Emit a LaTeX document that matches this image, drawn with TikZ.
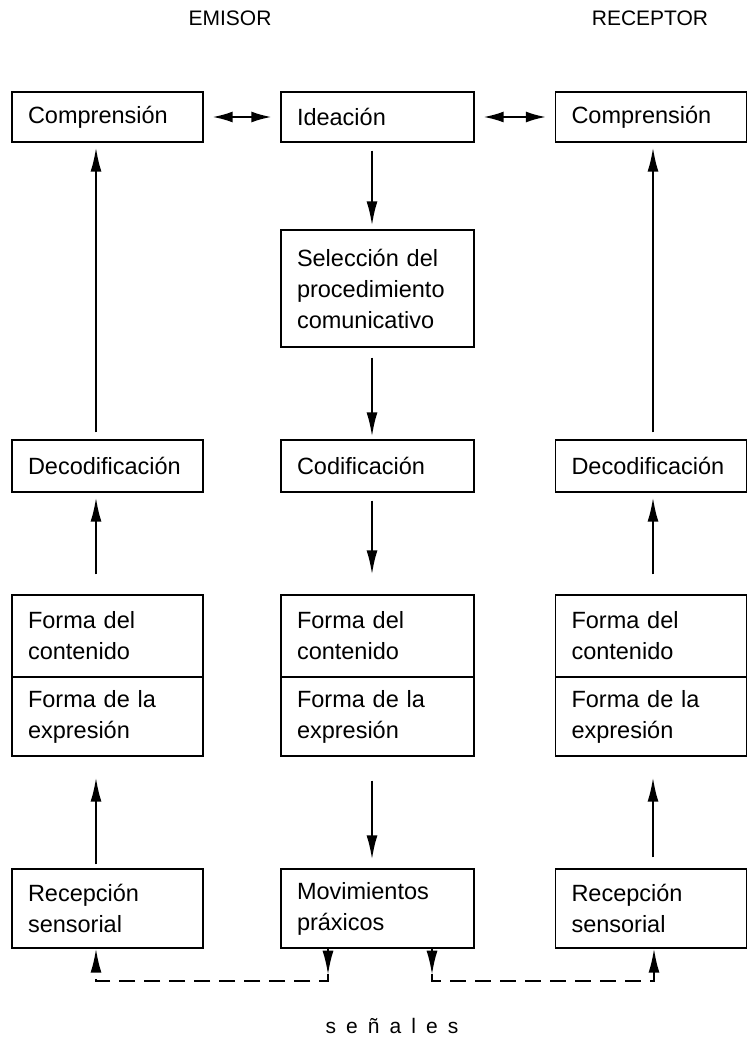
\documentclass[tikz,border=0pt]{standalone}
\usepackage{fontspec}
\setmainfont{Liberation Sans}
\usetikzlibrary{arrows.meta}

\begin{document}
\begin{tikzpicture}[x=1pt,y=-1pt,
    box/.style={draw,line width=1.4pt,text width=159pt,align=left,inner xsep=16pt,inner ysep=0pt,font=\fontsize{23.5}{31}\selectfont},
    wide/.style={text width=161pt},
    flow/.style={line width=1.9pt,-{Latex[length=24pt,width=11pt]}},
    both/.style={line width=1.9pt,{Latex[length=20pt,width=11pt]}-{Latex[length=20pt,width=11pt]},shorten <=9pt,shorten >=9pt},
    sig/.style={line width=1.9pt,dash pattern=on 16pt off 9pt,-{Latex[length=24pt,width=11pt]}},
    head/.style={font=\fontsize{21}{25}\selectfont}]

     \useasboundingbox (0,0) rectangle (749,1043);

     \node[head] (emi) at (230,18) {EMISOR};
     \node[head] (rec) at (650,18) {RECEPTOR};

     \node[box, minimum height=50pt]        (compE) at (107.5,117) {Comprensión};
     \node[box, wide, minimum height=50pt]  (idea)  at (377.5,117) {Ideación};
     \node[box, minimum height=50pt]        (compR) at (651,117)   {Comprensión};

     \node[box, wide, minimum height=117pt] (sel)   at (377.5,288.5) {Selección del\\procedimiento\\comunicativo};

     \node[box, minimum height=52pt]        (decE)  at (107.5,466) {Decodificación};
     \node[box, wide, minimum height=52pt]  (cod)   at (377.5,466) {Codificación};
     \node[box, minimum height=52pt]        (decR)  at (651,466)   {Decodificación};

     \node[box, minimum height=82pt]        (contE) at (107.5,636)   {Forma del\\contenido};
     \node[box, minimum height=79pt]        (exprE) at (107.5,716.5) {Forma de la\\expresión};
     \node[box, wide, minimum height=82pt]  (contM) at (377.5,636)   {Forma del\\contenido};
     \node[box, wide, minimum height=79pt]  (exprM) at (377.5,716.5) {Forma de la\\expresión};
     \node[box, minimum height=82pt]        (contR) at (651,636)     {Forma del\\contenido};
     \node[box, minimum height=79pt]        (exprR) at (651,716.5)   {Forma de la\\expresión};

     \node[box, minimum height=79pt]        (recE)  at (107.5,908.5) {Recepción\\sensorial};
     \node[box, wide, minimum height=79pt]  (mov)   at (377.5,908.5) {Movimientos\\práxicos};
     \node[box, minimum height=79pt]        (recR)  at (651,908.5)   {Recepción\\sensorial};

     \node[head] (sen) at (392,1026) {\addfontfeature{LetterSpace=48}señales};

     \draw[both] (compE) -- (idea);
     \draw[both] (idea) -- (compR);

     \draw[flow,shorten <=8pt,shorten >=4pt]  ([xshift=-5.5]idea.south) -- ([xshift=-5.5]sel.north);
     \draw[flow,shorten <=10pt,shorten >=3pt] ([xshift=-5.5]sel.south) -- ([xshift=-5.5]cod.north);
     \draw[flow,shorten <=7pt,shorten >=5pt]  ([xshift=-11.5]decE.north) -- ([xshift=-11.5]compE.south);
     \draw[flow,shorten <=7pt,shorten >=5pt]  ([xshift=2]decR.north) -- ([xshift=2]compR.south);

     \draw[flow,shorten <=20pt,shorten >=5pt] ([xshift=-11.5]contE.north) -- ([xshift=-11.5]decE.south);
     \draw[flow,shorten <=8pt,shorten >=20pt] ([xshift=-5.5]cod.south) -- ([xshift=-5.5]contM.north);
     \draw[flow,shorten <=20pt,shorten >=5pt] ([xshift=2]contR.north) -- ([xshift=2]decR.south);

     \draw[flow,shorten <=4pt,shorten >=21pt] ([xshift=-11.5]recE.north) -- ([xshift=-11.5]exprE.south);
     \draw[flow,shorten <=24pt,shorten >=9pt] ([xshift=-5.5]exprM.south) -- ([xshift=-5.5]mov.north);
     \draw[flow,shorten <=11pt,shorten >=21pt] ([xshift=2]recR.north) -- ([xshift=2]exprR.south);

     \draw[sig] ([xshift=-49.5]mov.south) -- ++(0,32) -| ([xshift=-11.5]recE.south);
     \draw[sig] ([xshift=54.5]mov.south) -- ++(0,32) -| ([xshift=3]recR.south);
     \draw[flow] ([xshift=-49.5]mov.south) -- ++(0,26);
     \draw[flow] ([xshift=54.5]mov.south) -- ++(0,26);

\end{tikzpicture}
\end{document}
